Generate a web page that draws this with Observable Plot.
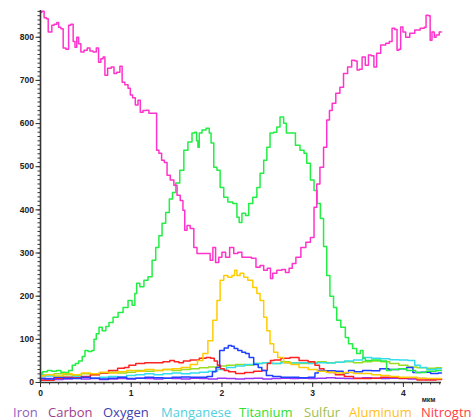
<!DOCTYPE html>
<html>
<head>
<meta charset="utf-8">
<script src="https://cdn.jsdelivr.net/npm/d3@7"></script>
<script src="https://cdn.jsdelivr.net/npm/@observablehq/plot@0.6"></script>
<style>
  html, body { margin: 0; padding: 0; background: #fff; }
  #wrap { position: relative; width: 476px; height: 420px; overflow: hidden; }
  #legend { position: relative; width: 476px; height: 16px; font-family: "Open Sans", sans-serif; font-size: 13px; line-height: 16px; }
  #legend span { position: absolute; top: 0; white-space: nowrap; }
</style>
</head>
<body>
<div id="wrap"><div id="chart"></div><div id="legend"></div></div>
<script>
// ---- data (x in мкм, y in counts) ----
const seriesNames = ["Iron", "Carbon", "Oxygen", "Manganese", "Titanium", "Sulfur", "Aluminum", "Nitrogtn"];
const lineColors = ["#9933ff", "#ff33cc", "#2040ff", "#33ddee", "#22ee44", "#99dd22", "#ffcc00", "#ff2222"];
const legendColors = ["#9060c0", "#a03c8c", "#4040b0", "#50d0e0", "#30e030", "#a0c050", "#ffc020", "#ff4040"];
const xTicks = [0, 1, 2, 3, 4];
const yTicks = [0, 100, 200, 300, 400, 500, 600, 700, 800];
const xUnit = "мкм";

const iron = [[0,8],[0.1,9],[0.2,7],[0.3,8],[0.4,10],[0.5,8],[0.6,9],[0.7,7],[0.8,8],[0.9,9],[1.0,8],[1.1,10],[1.2,9],[1.3,8],[1.4,10],[1.5,9],[1.6,8],[1.7,10],[1.8,9],[1.9,8],[2.0,10],[2.1,9],[2.2,8],[2.3,9],[2.4,10],[2.5,8],[2.6,9],[2.7,10],[2.8,9],[2.9,10],[3.0,9],[3.1,10],[3.2,11],[3.3,10],[3.4,9],[3.5,10],[3.6,11],[3.7,10],[3.8,9],[3.9,10],[4.0,9],[4.1,8],[4.2,9],[4.3,7],[4.42,8]];

const carbon = [[0,858],[0.03,860],[0.05,845],[0.08,843],[0.09,812],[0.12,812],[0.13,828],[0.17,830],[0.19,834],[0.21,823],[0.24,820],[0.26,775],[0.3,772],[0.32,828],[0.35,830],[0.37,790],[0.39,777],[0.41,800],[0.43,785],[0.46,766],[0.5,770],[0.53,775],[0.56,768],[0.6,766],[0.63,775],[0.65,742],[0.68,750],[0.7,754],[0.72,712],[0.76,728],[0.8,731],[0.82,716],[0.86,719],[0.89,733],[0.91,696],[0.95,690],[0.98,682],[1.0,666],[1.03,660],[1.06,643],[1.09,654],[1.11,626],[1.15,630],[1.18,631],[1.21,624],[1.27,624],[1.29,538],[1.32,531],[1.35,515],[1.38,510],[1.41,480],[1.45,469],[1.49,457],[1.52,434],[1.56,422],[1.58,399],[1.6,353],[1.63,364],[1.67,357],[1.71,313],[1.74,299],[1.8,299],[1.85,299],[1.89,283],[1.91,313],[1.95,278],[1.98,290],[2.02,302],[2.06,290],[2.11,313],[2.15,299],[2.2,302],[2.24,290],[2.3,290],[2.35,288],[2.4,267],[2.44,271],[2.48,260],[2.52,265],[2.55,241],[2.57,253],[2.64,260],[2.68,262],[2.72,255],[2.76,265],[2.79,276],[2.84,290],[2.9,313],[2.95,325],[3.0,336],[3.03,406],[3.06,460],[3.1,499],[3.14,545],[3.17,608],[3.2,630],[3.23,647],[3.28,670],[3.32,684],[3.36,716],[3.41,731],[3.45,747],[3.48,745],[3.5,724],[3.53,726],[3.56,754],[3.6,735],[3.63,759],[3.66,757],[3.69,731],[3.72,763],[3.78,782],[3.83,786],[3.86,790],[3.89,821],[3.92,818],[3.94,770],[3.96,772],[3.98,824],[4.01,812],[4.04,800],[4.1,809],[4.15,817],[4.22,821],[4.24,823],[4.26,851],[4.29,850],[4.3,793],[4.33,812],[4.35,800],[4.37,805],[4.42,812]];

const oxygen = [[0,10],[0.1,8],[0.2,12],[0.3,10],[0.4,9],[0.5,12],[0.6,10],[0.7,8],[0.8,10],[0.9,12],[1.0,9],[1.1,10],[1.2,12],[1.3,11],[1.4,10],[1.5,12],[1.6,13],[1.7,12],[1.8,12],[1.87,14],[1.92,25],[1.95,35],[2.0,74],[2.05,80],[2.09,86],[2.12,84],[2.15,79],[2.2,74],[2.24,70],[2.28,67],[2.32,58],[2.38,42],[2.42,35],[2.46,28],[2.52,16],[2.6,14],[2.7,12],[2.8,12],[2.9,11],[3.0,12],[3.05,22],[3.07,28],[3.2,27],[3.3,26],[3.37,22],[3.42,28],[3.5,25],[3.6,28],[3.7,27],[3.78,32],[3.9,30],[4.0,32],[4.07,35],[4.14,23],[4.25,24],[4.35,21],[4.42,22]];

const manganese = [[0,18],[0.1,15],[0.2,14],[0.3,12],[0.4,14],[0.5,12],[0.6,10],[0.7,12],[0.8,14],[0.9,13],[1.0,16],[1.1,18],[1.2,20],[1.3,18],[1.4,20],[1.5,22],[1.6,20],[1.7,22],[1.8,24],[1.9,26],[2.0,30],[2.1,35],[2.2,38],[2.3,42],[2.4,44],[2.5,46],[2.6,44],[2.7,46],[2.8,45],[2.9,46],[3.0,44],[3.1,46],[3.2,45],[3.3,47],[3.4,50],[3.5,52],[3.6,58],[3.7,56],[3.8,55],[3.9,53],[4.0,52],[4.1,51],[4.15,40],[4.22,35],[4.3,30],[4.42,32]];

const titanium = [[0,22],[0.05,25],[0.1,28],[0.15,26],[0.2,28],[0.25,24],[0.29,23],[0.33,28],[0.37,40],[0.4,44],[0.44,50],[0.48,60],[0.5,74],[0.55,72],[0.58,74],[0.6,100],[0.63,113],[0.66,128],[0.7,120],[0.74,130],[0.77,139],[0.83,151],[0.88,162],[0.94,174],[0.99,190],[1.03,179],[1.05,206],[1.07,230],[1.12,222],[1.16,237],[1.21,245],[1.25,283],[1.29,313],[1.32,340],[1.36,369],[1.4,394],[1.44,425],[1.47,440],[1.51,462],[1.56,492],[1.6,538],[1.65,557],[1.69,578],[1.71,580],[1.73,560],[1.74,545],[1.76,578],[1.8,585],[1.85,589],[1.87,578],[1.89,555],[1.93,499],[1.96,492],[2.0,452],[2.04,429],[2.09,418],[2.15,415],[2.18,383],[2.2,371],[2.24,392],[2.28,387],[2.31,415],[2.37,429],[2.4,452],[2.44,485],[2.48,515],[2.51,545],[2.55,578],[2.59,580],[2.62,592],[2.66,615],[2.7,601],[2.72,578],[2.79,578],[2.83,550],[2.89,538],[2.92,531],[2.95,508],[3.0,469],[3.03,445],[3.07,415],[3.1,380],[3.14,315],[3.17,248],[3.21,200],[3.25,174],[3.28,144],[3.34,128],[3.38,104],[3.41,90],[3.47,79],[3.5,67],[3.55,74],[3.56,56],[3.6,51],[3.7,52],[3.8,50],[3.83,28],[3.9,30],[4.0,32],[4.07,28],[4.2,23],[4.3,26],[4.42,28]];

const sulfur = [[0,15],[0.1,18],[0.2,20],[0.3,18],[0.4,17],[0.5,20],[0.6,18],[0.7,22],[0.8,24],[0.9,22],[1.0,24],[1.1,28],[1.2,26],[1.3,28],[1.4,30],[1.5,28],[1.6,30],[1.7,32],[1.8,34],[1.9,36],[2.0,38],[2.1,40],[2.2,42],[2.3,40],[2.4,44],[2.5,46],[2.6,44],[2.7,48],[2.8,46],[2.9,44],[3.0,46],[3.1,48],[3.2,46],[3.3,47],[3.4,48],[3.5,46],[3.6,48],[3.7,50],[3.8,48],[3.9,44],[4.0,40],[4.1,36],[4.2,34],[4.3,33],[4.42,34]];

const aluminum = [[0,16],[0.1,18],[0.2,15],[0.3,20],[0.4,18],[0.5,22],[0.6,20],[0.7,24],[0.8,22],[0.9,25],[1.0,28],[1.1,26],[1.2,30],[1.3,28],[1.4,30],[1.5,32],[1.6,35],[1.7,42],[1.76,51],[1.82,67],[1.87,97],[1.93,144],[1.96,190],[2.0,237],[2.04,248],[2.09,244],[2.13,248],[2.15,260],[2.18,248],[2.22,253],[2.26,244],[2.31,237],[2.37,220],[2.4,206],[2.44,190],[2.48,151],[2.51,120],[2.55,90],[2.59,70],[2.64,58],[2.72,46],[2.8,42],[2.9,35],[3.0,30],[3.1,26],[3.2,24],[3.3,22],[3.4,23],[3.5,21],[3.6,21],[3.7,18],[3.8,16],[3.9,14],[4.0,12],[4.1,12],[4.2,10],[4.3,9],[4.42,9]];

const nitrogen = [[0,5],[0.1,5],[0.2,10],[0.3,12],[0.4,11],[0.5,14],[0.6,18],[0.7,22],[0.8,28],[0.9,33],[0.95,35],[1.0,40],[1.1,44],[1.2,46],[1.3,46],[1.4,48],[1.45,51],[1.5,48],[1.55,46],[1.6,50],[1.7,52],[1.8,56],[1.85,58],[1.9,56],[1.93,50],[1.97,40],[2.0,32],[2.05,28],[2.1,25],[2.2,21],[2.3,23],[2.4,26],[2.48,28],[2.52,44],[2.55,51],[2.6,52],[2.7,56],[2.8,58],[2.9,51],[3.0,48],[3.05,40],[3.1,32],[3.15,26],[3.2,23],[3.3,18],[3.4,14],[3.5,9],[3.6,9],[3.7,10],[3.8,12],[3.9,12],[4.0,10],[4.1,11],[4.2,6],[4.3,6],[4.42,7]];

const seriesData = [iron, carbon, oxygen, manganese, titanium, sulfur, aluminum, nitrogen];
// drawing order (bottom to top)
const drawOrder = [5, 3, 0, 7, 2, 6, 4, 1];

const axisFont = {fontFamily: "Liberation Sans, Arial, sans-serif", fontSize: 8.5, fontWeight: "bold", fill: "#222"};

const lineMarks = drawOrder.map(i =>
  Plot.line(seriesData[i], {x: d => d[0], y: d => d[1], stroke: lineColors[i], strokeWidth: 1.5, curve: "step"})
);

const chart = Plot.plot({
  width: 476,
  height: 404,
  marginLeft: 40,
  marginRight: 35,
  marginTop: 10,
  marginBottom: 22,
  style: {background: "#fff", overflow: "visible"},
  x: {domain: [0, 4.42]},
  y: {domain: [0, 862]},
  marks: [
    ...lineMarks,
    Plot.axisX({ticks: d3.range(0, 45).map(i => i / 10).filter(v => v <= 4.42), tickSize: 2.5, text: null, stroke: "#333"}),
    Plot.axisX({ticks: xTicks, tickSize: 5, tickPadding: 2, tickFormat: d => String(d), stroke: "#333", ...axisFont, label: null}),
    Plot.axisY({ticks: d3.range(0, 861, 10), tickSize: 2.5, text: null, stroke: "#333"}),
    Plot.axisY({ticks: yTicks, tickSize: 4.5, tickPadding: 2, tickFormat: d => String(d), stroke: "#333", ...axisFont, label: null}),
    Plot.ruleX([0], {stroke: "#333", strokeWidth: 1.6}),
    Plot.ruleY([0], {stroke: "#333", strokeWidth: 1.6}),
    Plot.text([xUnit], {frameAnchor: "bottom-right", dx: -6, dy: 19, text: d => d, fontSize: 7, fontWeight: "bold", fontFamily: "Liberation Sans, Arial, sans-serif", fill: "#222"})
  ]
});
document.getElementById("chart").appendChild(chart);

// legend
const legendLeft = [13, 48, 103, 161, 239, 304, 349, 421];
const legend = document.getElementById("legend");
seriesNames.forEach((name, i) => {
  const s = document.createElement("span");
  s.textContent = name;
  s.style.color = legendColors[i];
  s.style.left = legendLeft[i] + "px";
  legend.appendChild(s);
});
</script>
</body>
</html>
